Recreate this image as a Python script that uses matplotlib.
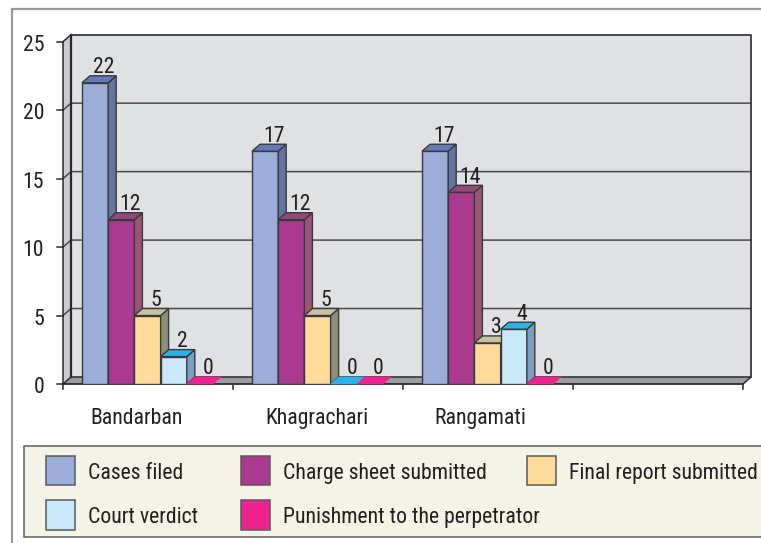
import matplotlib
matplotlib.use("Agg")
import matplotlib.pyplot as plt
from matplotlib.patches import Rectangle, Polygon

categories = ["Bandarban", "Khagrachari", "Rangamati", ""]
series_names = ["Cases filed", "Charge sheet submitted", "Final report submitted",
                "Court verdict", "Punishment to the perpetrator"]
cases_filed = [22, 17, 17]
charge_sheet = [12, 12, 14]
final_report = [5, 5, 3]
court_verdict = [2, 0, 4]
punishment = [0, 0, 0]
series = [cases_filed, charge_sheet, final_report, court_verdict, punishment]

front = ["#9dadd9", "#a93a8f", "#fedb9b", "#c9e9fb", "#ee2390"]
side = ["#64759f", "#98566f", "#8a8f7c", "#7a9fbe", "#ee2390"]
top = ["#6478bb", "#8f4a78", "#c6c3a2", "#2ab3e6", "#ee2390"]

W, H = 761, 543
FS = 15.7
TXT = "#231f20"
plt.rcParams["font.family"] = ["Roboto Condensed", "Liberation Sans", "DejaVu Sans"]
fig = plt.figure(figsize=(W / 100, H / 100), dpi=100, facecolor="white")


def px_rect(x0, y0, x1, y1):
    return [x0 / W, 1 - y1 / H, (x1 - x0) / W, (y1 - y0) / H]


ax = fig.add_axes(px_rect(63, 41.7, 743, 384))
ax.set_xlim(0, 4)
ax.set_ylim(0, 25)
ax.axis("off")
ax.patch.set_visible(False)

px_x = 4 / 680
px_y = 25 / 342.3
dx, dy = 8 * px_x, 7 * px_y
edge = "#3a3a3c"
dark = "#2a2a2c"

# outer frame
bg = fig.add_axes([0, 0, 1, 1], zorder=-1)
bg.set_xlim(0, W)
bg.set_ylim(H, 0)
bg.axis("off")
bg.plot([12, 12, W], [H, 9, 9], color="#9a9a9c", lw=1.6, solid_joinstyle="miter")

# walls
ax.add_patch(Polygon([(dx, dy), (4 + dx, dy), (4 + dx, 25 + dy), (dx, 25 + dy)],
                     fc="#e0e1e3", ec="none", zorder=1, clip_on=False))
ax.add_patch(Polygon([(0, 0), (dx, dy), (dx, 25 + dy), (0, 25)],
                     fc="#cbcccd", ec="none", zorder=1, clip_on=False))
ax.add_patch(Polygon([(0, 0), (4, 0), (4 + dx, dy), (dx, dy)],
                     fc="#9c9c9e", ec="none", zorder=1, clip_on=False))
for v in [5, 10, 15, 20]:
    ax.plot([0, dx, 4 + dx], [v, v + dy, v + dy], color="#4a4a4c", lw=1.1, zorder=2, clip_on=False)
ax.plot([dx, 4 + dx, 4 + dx], [25 + dy, 25 + dy, dy], color="#3a3a3c", lw=1.3, zorder=2, clip_on=False)
ax.plot([dx, dx], [dy, 25 + dy], color=dark, lw=1.6, zorder=2, clip_on=False)
ax.plot([0, dx, 4 + dx, 4], [0, dy, dy, 0], color=dark, lw=1.1, zorder=2, clip_on=False)
ax.plot([0, dx], [25, 25 + dy], color=dark, lw=1.1, zorder=2, clip_on=False)

# axes and ticks
ax.plot([0, 0], [0, 25], color=dark, lw=1.1, zorder=3, clip_on=False)
ax.plot([0, 4], [0, 0], color=dark, lw=1.3, zorder=3, clip_on=False)
for v in range(0, 26, 5):
    ax.plot([-6 * px_x, 0], [v, v], color=dark, lw=1.1, zorder=3, clip_on=False)
    ax.text(-19 * px_x, v - 1 * px_y, str(v), ha="right", va="center_baseline", fontsize=FS, color=TXT, clip_on=False)
for c in range(5):
    ax.plot([c, c], [0, -5 * px_y], color=dark, lw=1.1, zorder=3, clip_on=False)

# bars
bw = 26.2 * px_x
off = 19 * px_x
for si, vals in enumerate(series):
    z = 5 + si
    for ci, v in enumerate(vals):
        x = ci + off + si * bw
        if v > 0:
            ax.bar(x, v, width=bw, align="edge", color=front[si], edgecolor=edge, linewidth=1.0, zorder=z)
            ax.add_patch(Polygon([(x + bw, 0), (x + bw + dx, dy), (x + bw + dx, v + dy), (x + bw, v)],
                                 fc=side[si], ec=edge, lw=1.0, zorder=z, clip_on=False))
        ax.add_patch(Polygon([(x, v), (x + bw, v), (x + bw + dx, v + dy), (x + dx, v + dy)],
                             fc=top[si], ec=edge if v > 0 else top[si], lw=1.0 if v > 0 else 0.4,
                             zorder=z, clip_on=False))
        ax.text(x + bw / 2 + 8.5 * px_x, v + dy + 2.5 * px_y, str(v), ha="center", va="baseline",
                fontsize=FS, color=TXT, zorder=20, clip_on=False)

# category labels
label_centres = [0.432, 0.491, 0.453, 0.5]
for ci, (name, lc) in enumerate(zip(categories, label_centres)):
    ax.text(ci + lc, -32 * px_y, name, ha="center", va="center_baseline", fontsize=FS, color=TXT, clip_on=False)

# legend
leg = fig.add_axes([0, 0, 1, 1], zorder=5)
leg.set_xlim(0, W)
leg.set_ylim(H, 0)
leg.axis("off")
leg.patch.set_visible(False)
leg.add_patch(Rectangle((23.5, 445.5), 760, 91.5, fc="#f4f3e8", ec="#5f5f61", lw=1.1))
pos = [(45.7, 455.7, 88), (240.5, 455.7, 283), (526.8, 455.7, 569), (45.7, 500, 88), (240.5, 500, 283)]
for (sx, sy, tx), name, c in zip(pos, series_names, front):
    leg.add_patch(Rectangle((sx, sy), 29.6, 29.5, fc=c, ec="#5a5a5c", lw=1.1))
    leg.text(tx, sy + 15, name, ha="left", va="center_baseline", fontsize=FS, color=TXT)

fig.savefig("out.png", dpi=100, facecolor="white")
